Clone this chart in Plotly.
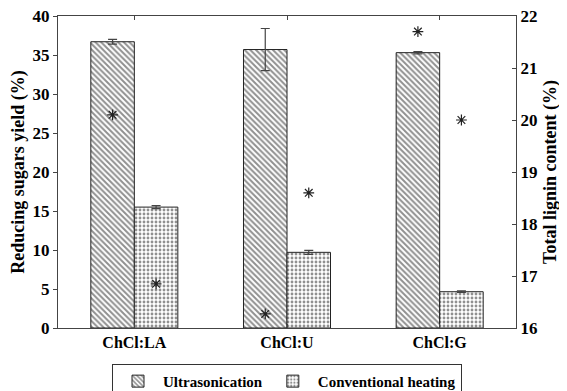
import plotly.graph_objects as go

categories = ["ChCl:LA", "ChCl:U", "ChCl:G"]
series_names = ["Ultrasonication", "Conventional heating"]
sugars_ultra = [36.7, 35.7, 35.3]
sugars_ultra_err = [0.3, 2.7, 0.15]
sugars_conv = [15.5, 9.7, 4.65]
sugars_conv_err = [0.2, 0.25, 0.1]
lignin_ultra = [20.1, 16.27, 21.7]
lignin_conv = [16.85, 18.6, 20.0]

FAM = "Liberation Serif"
line_col = "#444444"
star = dict(symbol="asterisk-open", size=9, color="#222222", line=dict(color="#222222", width=1.2))


def f(size):
    return dict(family=FAM, size=size, color="black", weight="bold")


fig = go.Figure()
fig.add_trace(go.Bar(
    x=categories, y=sugars_ultra, name=series_names[0],
    error_y=dict(type="data", array=sugars_ultra_err, color=line_col, thickness=1.2, width=4.5),
    marker=dict(color="white", line=dict(color="#222222", width=1),
                pattern=dict(shape="\\", size=4, solidity=0.5, fgcolor="#222222", bgcolor="white")),
    offsetgroup="a", yaxis="y",
))
fig.add_trace(go.Bar(
    x=categories, y=sugars_conv, name=series_names[1],
    error_y=dict(type="data", array=sugars_conv_err, color=line_col, thickness=1.2, width=4.5),
    marker=dict(color="white", line=dict(color="#222222", width=1),
                pattern=dict(shape=".", size=4, solidity=0.4, fgcolor="#222222", bgcolor="white")),
    offsetgroup="b", yaxis="y",
))
fig.add_trace(go.Scatter(
    x=categories, y=lignin_ultra, mode="markers", yaxis="y2", showlegend=False,
    marker=star, offsetgroup="a",
))
fig.add_trace(go.Scatter(
    x=categories, y=lignin_conv, mode="markers", yaxis="y2", showlegend=False,
    marker=star, offsetgroup="b",
))

fig.update_layout(
    width=559, height=383,
    margin=dict(l=50, r=51, t=8, b=63, autoexpand=False),
    paper_bgcolor="white", plot_bgcolor="white",
    font=f(16),
    barmode="group", bargap=0.43, bargroupgap=0,
    scattermode="group", scattergap=0.43,
    xaxis=dict(showline=True, linecolor=line_col, linewidth=1, mirror="ticks",
               ticks="inside", ticklen=4, tickcolor=line_col, automargin=False,
               range=[-0.5, 2.5], showgrid=False, zeroline=False,
               tickfont=f(16), ticklabeloverflow="allow"),
    yaxis=dict(title=dict(text="Reducing sugars yield (%)", font=f(18), standoff=6),
               range=[0, 40], dtick=5, showline=True, linecolor=line_col, linewidth=1,
               ticks="outside", ticklen=4, tickcolor=line_col, automargin=False,
               showgrid=False, zeroline=False, tickfont=f(17), ticklabeloverflow="allow"),
    yaxis2=dict(title=dict(text="Total lignin content (%)", font=f(18), standoff=6),
                overlaying="y", side="right", range=[16, 22], dtick=1,
                showline=True, linecolor=line_col, linewidth=1, automargin=False,
                ticks="inside", ticklen=4, tickcolor=line_col,
                showgrid=False, zeroline=False, tickfont=f(17), ticklabeloverflow="allow"),
    legend=dict(orientation="h", x=0.5, xanchor="center", y=-0.115, yanchor="top",
                bordercolor="#333333", borderwidth=1, bgcolor="white",
                font=f(15), itemwidth=40, tracegroupgap=0),
)

fig.write_html("out.html")
